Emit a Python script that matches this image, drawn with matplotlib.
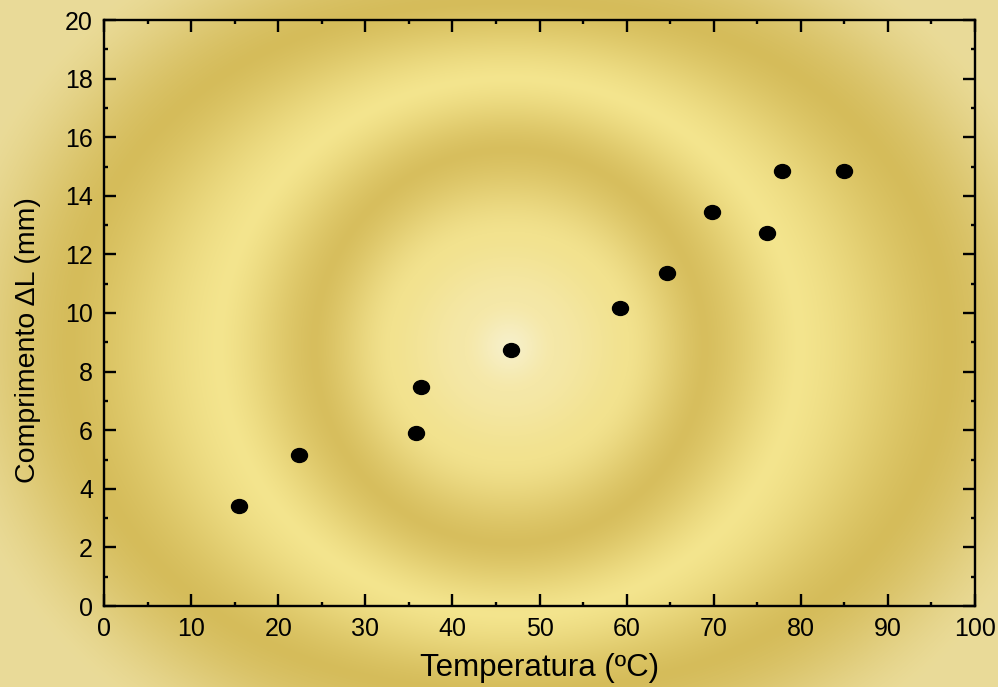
import matplotlib.pyplot as plt
import numpy as np
from matplotlib.path import Path
from matplotlib.ticker import MultipleLocator

# Dados medidos
temperatura = [15.5, 22.4, 35.8, 36.4, 46.7, 59.2, 64.6, 69.8, 76.1, 77.8, 85.0]
comprimento = [3.41, 5.15, 5.90, 7.47, 8.74, 10.17, 11.37, 13.45, 12.73, 14.85, 14.85]

x_ticks = np.arange(0, 101, 10)
y_ticks = np.arange(0, 21, 2)

plt.rcParams['font.family'] = ['Liberation Sans', 'DejaVu Sans']

W, H = 998, 687
fig = plt.figure(figsize=(W / 100, H / 100), dpi=100)

# Fundo dourado com anéis (um pouco achatados na vertical para fora)
yy, xx = np.mgrid[0:H, 0:W]
dx, dy = xx - 509.0, yy - 346.0
r = np.hypot(dx, dy)
t = dy**2 / np.maximum(r**2, 1e-9)
raios_h = np.array([0, 45, 120, 195, 290, 440, 570])
raios_v = np.array([0, 45, 115, 197, 268, 345, 460])
cores = np.array([
    (247, 240, 202),
    (245, 232, 168),
    (242, 226, 142),
    (215, 190, 93),
    (244, 229, 142),
    (213, 188, 90),
    (234, 219, 152),
]) / 255
s = np.full(r.shape, len(raios_h) - 1.0)
for k in range(len(raios_h) - 2, -1, -1):
    r0 = (1 - t) * raios_h[k] + t * raios_v[k]
    r1 = (1 - t) * raios_h[k + 1] + t * raios_v[k + 1]
    m = r < r1
    f = (r[m] - r0[m]) / (r1[m] - r0[m])
    s[m] = k + 0.5 * f + 0.5 * f * f * (3 - 2 * f)
idx = np.arange(len(cores))
fundo = np.dstack([np.interp(s, idx, cores[:, c]) for c in range(3)])
bg = fig.add_axes([0, 0, 1, 1], zorder=-1)
bg.imshow(fundo, aspect='auto', interpolation='bilinear')
bg.axis('off')

ax = fig.add_axes([104 / W, (H - 606) / H, 871 / W, 586 / H])
ax.set_facecolor('none')

circ = Path.unit_circle()
elipse = Path(circ.vertices * [1.0, 0.87], circ.codes)
ax.plot(temperatura, comprimento, linestyle='none', marker=elipse,
        markersize=11.5, color='black')

ax.set_xlim(0, 100)
ax.set_ylim(0, 20)
ax.set_xticks(x_ticks)
ax.set_yticks(y_ticks)
ax.xaxis.set_minor_locator(MultipleLocator(5))
ax.yaxis.set_minor_locator(MultipleLocator(1))
ax.tick_params(which='both', direction='in', top=True, right=True,
               width=1.7, labelsize=18)
ax.tick_params(which='major', length=8.5)
ax.tick_params(which='minor', length=3)
ax.tick_params(axis='x', pad=8)
ax.tick_params(axis='y', pad=8)
for s_ in ax.spines.values():
    s_.set_linewidth(1.7)

ax.set_xlabel('Temperatura (ºC)', fontsize=22.5)
ax.set_ylabel('Comprimento ΔL (mm)', fontsize=20.5)
ax.xaxis.set_label_coords(0.5, -0.08)
ax.yaxis.set_label_coords(-0.072, 0.454)

fig.savefig('out.png', dpi=100)
